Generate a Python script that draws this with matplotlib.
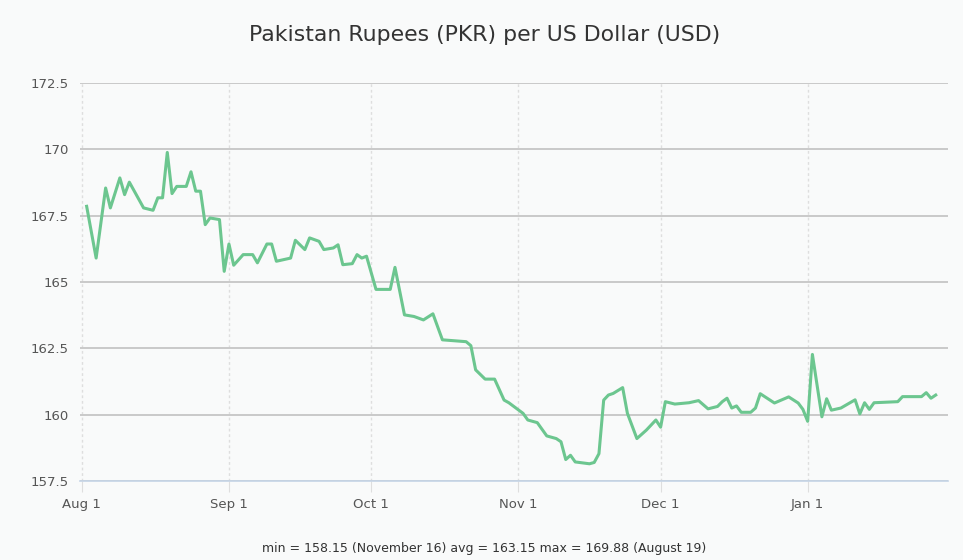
import pandas as pd
import matplotlib
matplotlib.use('Agg')
import matplotlib.pyplot as plt

# PKR per USD (Aug 2019 - Jan 2020)
dates = [
    '2019-08-02', '2019-08-04', '2019-08-06', '2019-08-07', '2019-08-09', '2019-08-10',
    '2019-08-11', '2019-08-14', '2019-08-16', '2019-08-17', '2019-08-18', '2019-08-19',
    '2019-08-20', '2019-08-21', '2019-08-23', '2019-08-24', '2019-08-25', '2019-08-26',
    '2019-08-27', '2019-08-28', '2019-08-30', '2019-08-31', '2019-09-01', '2019-09-02',
    '2019-09-04', '2019-09-06', '2019-09-07', '2019-09-09', '2019-09-10', '2019-09-11',
    '2019-09-14', '2019-09-15', '2019-09-17', '2019-09-18', '2019-09-20', '2019-09-21',
    '2019-09-23', '2019-09-24', '2019-09-25', '2019-09-27', '2019-09-28', '2019-09-29',
    '2019-09-30', '2019-10-02', '2019-10-05', '2019-10-06', '2019-10-08', '2019-10-10',
    '2019-10-12', '2019-10-14', '2019-10-16', '2019-10-21', '2019-10-22', '2019-10-23',
    '2019-10-25', '2019-10-27', '2019-10-29', '2019-10-30', '2019-11-02', '2019-11-03',
    '2019-11-05', '2019-11-07', '2019-11-09', '2019-11-10', '2019-11-11', '2019-11-12',
    '2019-11-13', '2019-11-16', '2019-11-17', '2019-11-18', '2019-11-19', '2019-11-20',
    '2019-11-21', '2019-11-23', '2019-11-24', '2019-11-26', '2019-11-28', '2019-11-30',
    '2019-12-01', '2019-12-02', '2019-12-04', '2019-12-07', '2019-12-09', '2019-12-11',
    '2019-12-13', '2019-12-14', '2019-12-15', '2019-12-16', '2019-12-17', '2019-12-18',
    '2019-12-20', '2019-12-21', '2019-12-22', '2019-12-25', '2019-12-28', '2019-12-30',
    '2019-12-31', '2020-01-01', '2020-01-02', '2020-01-04', '2020-01-05', '2020-01-06',
    '2020-01-08', '2020-01-11', '2020-01-12', '2020-01-13', '2020-01-14', '2020-01-15',
    '2020-01-20', '2020-01-21', '2020-01-25', '2020-01-26', '2020-01-27', '2020-01-28',
]
rates = [
    167.85, 165.90, 168.54, 167.79, 168.92, 168.29,
    168.76, 167.79, 167.70, 168.17, 168.17, 169.88,
    168.33, 168.60, 168.60, 169.15, 168.42, 168.42,
    167.16, 167.41, 167.35, 165.40, 166.43, 165.63,
    166.03, 166.03, 165.72, 166.43, 166.43, 165.78,
    165.90, 166.57, 166.22, 166.66, 166.53, 166.22,
    166.28, 166.40, 165.65, 165.69, 166.03, 165.90,
    165.97, 164.72, 164.72, 165.55, 163.76, 163.70,
    163.57, 163.80, 162.82, 162.75, 162.60, 161.69,
    161.34, 161.34, 160.55, 160.45, 160.05, 159.80,
    159.70, 159.20, 159.10, 158.98, 158.31, 158.47,
    158.22, 158.15, 158.20, 158.53, 160.55, 160.74,
    160.80, 161.02, 160.05, 159.10, 159.42, 159.80,
    159.53, 160.49, 160.40, 160.45, 160.53, 160.22,
    160.31, 160.49, 160.62, 160.25, 160.33, 160.09,
    160.09, 160.25, 160.79, 160.44, 160.67, 160.44,
    160.20, 159.75, 162.27, 159.92, 160.60, 160.17,
    160.25, 160.56, 160.03, 160.45, 160.20, 160.45,
    160.49, 160.68, 160.68, 160.83, 160.62, 160.74,
]
tick_dates = ['2019-08-01', '2019-09-01', '2019-10-01', '2019-11-01', '2019-12-01', '2020-01-01']
tick_labels = ['Aug 1', 'Sep 1', 'Oct 1', 'Nov 1', 'Dec 1', 'Jan 1']
y_ticks = [157.5, 160, 162.5, 165, 167.5, 170, 172.5]
y_labels = ['157.5', '160', '162.5', '165', '167.5', '170', '172.5']

x = pd.to_datetime(dates)

fig = plt.figure(figsize=(9.63, 5.6), dpi=100)
fig.patch.set_facecolor('#f9fafa')
ax = fig.add_axes([0.083, 0.141, 0.901, 0.711])
ax.set_facecolor('#f9fafa')

ax.plot(x, rates, color='#6cc68f', linewidth=2.2, solid_joinstyle='round')

ax.set_ylim(157.5, 172.5)
ax.set_xlim(pd.Timestamp('2019-07-31 14:00'), pd.Timestamp('2020-01-30 12:00'))
ax.set_yticks(y_ticks)
ax.set_yticklabels(y_labels)
ax.set_xticks(pd.to_datetime(tick_dates))
ax.set_xticklabels(tick_labels)

ax.grid(axis='y', color='#c9c9c9', linewidth=1.4)
ax.grid(axis='x', color='#dedede', linewidth=1.0, linestyle=(0, (2, 2)))
ax.set_axisbelow(True)

for side in ['top', 'right', 'left']:
    ax.spines[side].set_visible(False)
ax.spines['bottom'].set_color('#c5d4e6')
ax.spines['bottom'].set_linewidth(1.2)

ax.tick_params(axis='y', length=0, labelsize=9.5, labelcolor='#555555', pad=8)
ax.tick_params(axis='x', length=8, color='#dedede', labelsize=9.5, labelcolor='#555555', pad=4)

fig.text(0.503, 0.938, 'Pakistan Rupees (PKR) per US Dollar (USD)', ha='center', va='center',
         fontsize=15.8, color='#333333')
fig.text(0.503, 0.021, 'min = 158.15 (November 16) avg = 163.15 max = 169.88 (August 19)',
         ha='center', va='center', fontsize=9, color='#333333')

fig.savefig('out.png', dpi=100, facecolor=fig.get_facecolor())
